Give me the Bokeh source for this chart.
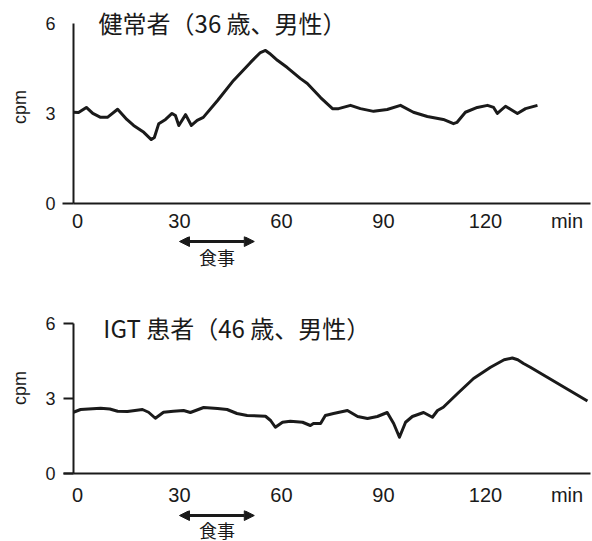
from bokeh.plotting import figure
from bokeh.models import Range1d, FixedTicker, Label, Arrow, NormalHead
from bokeh.layouts import column
from bokeh.embed import file_html
from bokeh.resources import INLINE

# ---- data ----
healthy_t = [-1.2, 0.3, 2.6, 4.5, 6.8, 8.8, 11.8, 14.5, 16.5, 19.5, 21.7, 22.6, 23.9, 25.9,
             27.8, 28.8, 29.8, 31.8, 33.5, 35.2, 37.0, 41.2, 45.9, 50.9, 53.8, 55.3, 56.5,
             58.8, 61.7, 65.6, 67.6, 71.5, 75.0, 76.8, 80.3, 83.2, 87.1, 91.1, 95.0, 98.8,
             102.9, 107.6, 110.6, 111.6, 114.1, 117.6, 120.6, 122.4, 123.5, 125.9, 129.4,
             131.8, 135.3]
healthy_cpm = [3.04, 3.03, 3.2, 3.0, 2.87, 2.87, 3.14, 2.8, 2.6, 2.37, 2.13, 2.2, 2.66, 2.8,
               3.0, 2.93, 2.6, 2.96, 2.6, 2.77, 2.87, 3.43, 4.1, 4.7, 5.03, 5.1, 5.0,
               4.77, 4.53, 4.16, 4.0, 3.53, 3.16, 3.16, 3.27, 3.16, 3.07, 3.13, 3.27, 3.04,
               2.9, 2.8, 2.66, 2.7, 3.04, 3.2, 3.27, 3.2, 3.0, 3.24, 3.0,
               3.16, 3.27]

igt_t = [-1.2, 0.9, 6.8, 9.5, 11.8, 14.7, 19.1, 20.9, 22.9, 25.3, 28.2, 31.2, 33.2, 37.1,
         41.2, 44.0, 46.9, 49.9, 55.3, 56.8, 58.2, 60.3, 62.6, 66.2, 68.5, 69.4, 71.5,
         72.9, 75.3, 79.4, 82.4, 85.3, 88.2, 91.1, 93.0, 94.7, 96.5, 98.5, 101.8, 104.4,
         105.9, 107.6, 111.8, 116.5, 121.5, 125.5, 127.9, 129.5, 131.2, 133.2, 150.0]
igt_cpm = [2.45, 2.56, 2.61, 2.58, 2.49, 2.48, 2.56, 2.45, 2.21, 2.45, 2.49, 2.52, 2.44, 2.64,
           2.6, 2.56, 2.4, 2.32, 2.29, 2.12, 1.85, 2.05, 2.09, 2.05, 1.92, 2.0, 2.0,
           2.32, 2.4, 2.52, 2.28, 2.2, 2.28, 2.44, 2.0, 1.45, 2.05, 2.28, 2.44, 2.25,
           2.52, 2.65, 3.2, 3.8, 4.25, 4.55, 4.62, 4.55, 4.4, 4.25, 2.9]

meal_start = 30
meal_end = 52
x_ticks = [0, 30, 60, 90, 120]
unit_pos = 144
unit_label = "min"
y_ticks = [0, 3, 6]
titles = ["健常者（36 歳、男性）", "IGT  患者（46 歳、男性）"]
meal_label = "食事"

INK = "#1a1a1a"
W = 592
XR = (-1.18, 150.9)
LEFT = 73


def style_axes(p, ytick_out, minor_out, ystand, xstand):
    p.xgrid.visible = False
    p.ygrid.visible = False
    p.outline_line_color = None
    xa = p.xaxis[0]
    xa.ticker = FixedTicker(ticks=x_ticks + [unit_pos])
    xa.major_label_overrides = {unit_pos: unit_label}
    xa.major_tick_out = 0
    xa.major_tick_in = 0
    xa.minor_tick_out = 0
    xa.minor_tick_in = 0
    xa.axis_line_width = 2
    xa.axis_line_color = INK
    xa.axis_label = None
    xa.major_label_text_font = "Liberation Sans"
    xa.major_label_text_font_size = "20px"
    xa.major_label_text_color = INK
    xa.major_label_standoff = xstand
    ya = p.yaxis[0]
    ya.ticker = FixedTicker(ticks=y_ticks, minor_ticks=[0])
    ya.bounds = (0, 6)
    ya.major_tick_out = ytick_out
    ya.major_tick_in = 0
    ya.major_tick_line_width = 2
    ya.major_tick_line_color = INK
    ya.minor_tick_out = minor_out
    ya.minor_tick_in = 0
    ya.minor_tick_line_width = 2
    ya.minor_tick_line_color = INK
    ya.axis_line_width = 2
    ya.axis_line_color = INK
    ya.major_label_text_font = "Liberation Sans"
    ya.major_label_text_font_size = "18px"
    ya.major_label_text_color = INK
    ya.major_label_standoff = ystand
    ya.axis_label = "cpm"
    ya.axis_label_text_font = "Liberation Sans"
    ya.axis_label_text_font_style = "normal"
    ya.axis_label_text_font_size = "18px"
    ya.axis_label_text_color = INK
    ya.axis_label_standoff = 12


def panel(t, c, height, ymax, top, bottom, ytick_out, minor_out, ystand, xstand, title, tx, ty):
    p = figure(width=W, height=height, x_range=Range1d(*XR), y_range=Range1d(0, ymax),
               output_backend="svg", toolbar_location=None,
               min_border_left=LEFT, min_border_right=2, min_border_top=top,
               min_border_bottom=bottom)
    p.line(t, c, line_width=3, color=INK, line_join="round")
    style_axes(p, ytick_out, minor_out, ystand, xstand)
    p.add_layout(Label(x=tx, y=ty, text=title, text_font="Noto Sans CJK JP",
                       text_font_size="24px", text_color=INK,
                       text_baseline="middle", text_align="left"))
    return p


def strip(xr, height, ya, yt):
    s = figure(width=W, height=height, x_range=xr, y_range=Range1d(-height, 0),
               x_axis_type=None, y_axis_type=None, output_backend="svg",
               toolbar_location=None, min_border_left=LEFT, min_border_right=2,
               min_border_top=0, min_border_bottom=0)
    s.outline_line_color = None
    s.xgrid.visible = False
    s.ygrid.visible = False
    head = dict(size=10, fill_color=INK, line_color=INK, line_width=1)
    s.add_layout(Arrow(x_start=meal_start, x_end=meal_end, y_start=ya, y_end=ya,
                       start=NormalHead(**head), end=NormalHead(**head),
                       line_width=3, line_color=INK))
    s.add_layout(Label(x=(meal_start + meal_end) / 2, y=yt, text=meal_label,
                       text_font="Noto Sans CJK JP", text_font_size="18px",
                       text_color=INK, text_align="center", text_baseline="middle"))
    return s


p1 = panel(healthy_t, healthy_cpm, 236, 6.43, 10, 33, 0, 11, 7, 6, titles[0], 6.2, 6.03)
s1 = strip(p1.x_range, 63, -5, -20)
p2 = panel(igt_t, igt_cpm, 211, 6.84, 3, 37, 10, 10, 8, 10, titles[1], 7.6, 5.84)
s2 = strip(p2.x_range, 31, -5, -19)

layout = column(p1, s1, p2, s2, spacing=0)
open("out.html", "w").write(file_html(layout, INLINE))
